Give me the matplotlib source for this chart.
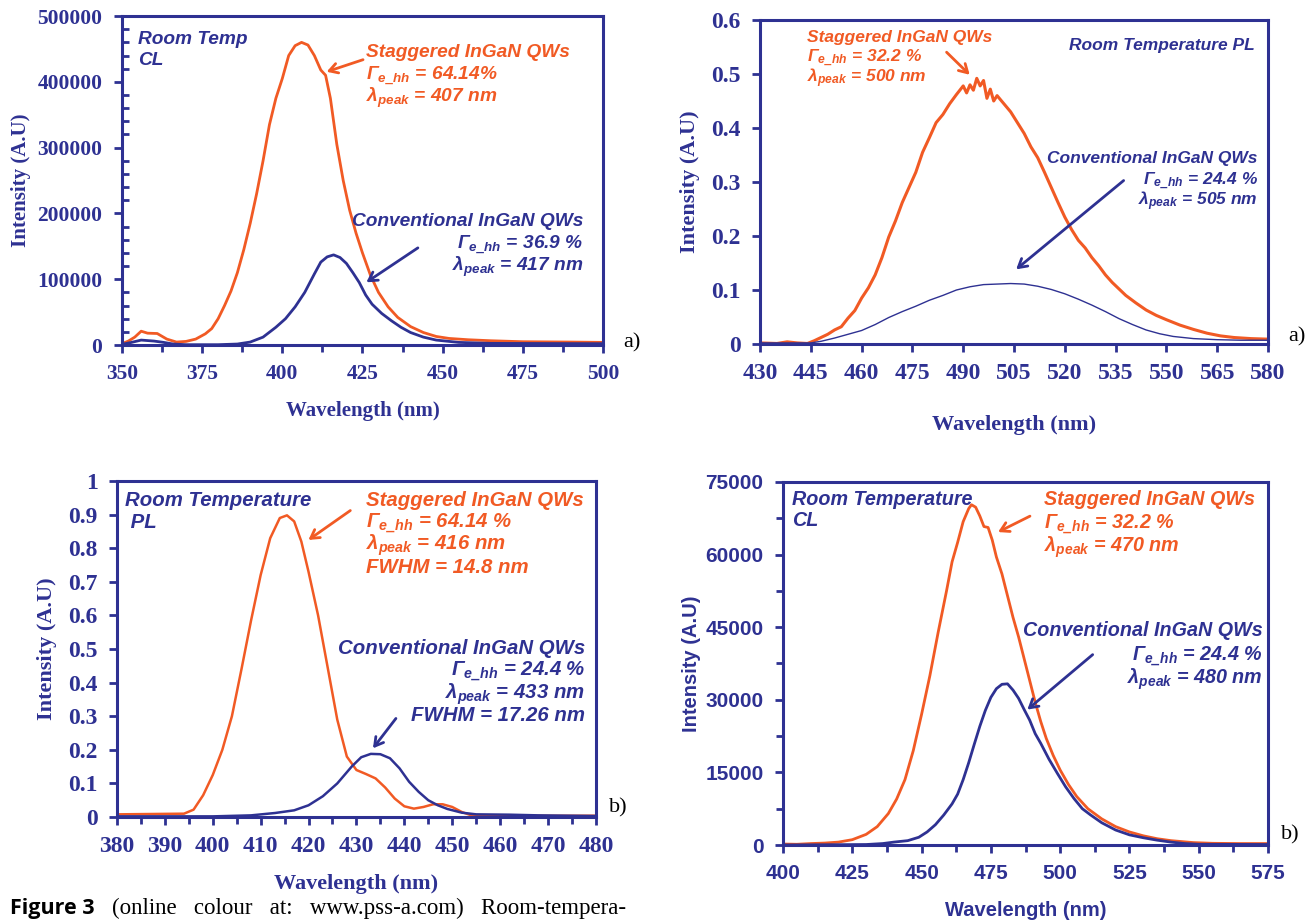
import numpy as np
import matplotlib
matplotlib.use("Agg")
import matplotlib.pyplot as plt
from matplotlib.ticker import MultipleLocator, FixedLocator

ORANGE = "#F15A24"
NAVY = "#2E3192"

plt.rcParams["mathtext.fontset"] = "custom"
plt.rcParams["mathtext.rm"] = "Liberation Sans:italic:bold"
plt.rcParams["mathtext.it"] = "Liberation Sans:italic:bold"
plt.rcParams["mathtext.bf"] = "Liberation Sans:italic:bold"

# ---- panel 1: room temp CL (350-500 nm) ----
cl1_wl_stag = [350, 352, 354, 356, 358, 361, 364, 367, 370, 373, 376, 378, 380, 382, 384,
               386, 388, 390, 392, 394, 396, 398, 400, 402, 404, 406, 408, 410, 412, 413.5,
               415, 417, 419, 421, 423, 425, 427.5, 430, 433, 436, 440, 444, 448, 452, 458,
               465, 475, 490, 500]
cl1_int_stag = [2000, 6000, 12000, 21000, 18000, 17500, 9000, 4500, 5500, 9000, 17000, 25000,
                40000, 60000, 82000, 110000, 145000, 185000, 230000, 280000, 335000, 375000,
                405000, 440000, 455000, 460000, 456000, 440000, 418000, 410000, 375000, 305000,
                250000, 205000, 170000, 140000, 106000, 80000, 58000, 42000, 28000, 19000,
                13000, 10000, 8000, 6500, 5000, 4500, 4000]
cl1_wl_conv = [350, 353, 356, 360, 363, 366, 370, 380, 386, 390, 394, 398, 401, 404, 407, 410,
               412, 414, 416, 418, 420, 422, 424, 426, 428, 431, 434, 437, 440, 444, 448, 455,
               465, 500]
cl1_int_conv = [1000, 4000, 7500, 6000, 4000, 1500, 500, 500, 1500, 4500, 12000, 27000, 40000,
                58000, 80000, 108000, 126000, 134000, 137000, 133000, 124000, 110000, 95000,
                76000, 62000, 48000, 37000, 27000, 19000, 12000, 7500, 4000, 2500, 2000]

# ---- panel 2: room temperature PL (430-580 nm) ----
pl2_wl_stag = [430, 435, 438, 441, 444, 446, 448, 450, 452, 454, 456, 458, 460, 462, 464, 466,
               468, 470, 472, 474, 476, 478, 480, 482, 484, 486, 488, 489, 490, 491, 492, 493,
               494, 495, 496, 497, 498, 499, 500, 502, 504, 506, 508, 510, 512, 514, 516, 518,
               520, 522, 524, 526, 528, 530, 532, 534, 536, 538, 541, 544, 547, 550, 554, 558,
               562, 566, 570, 575, 580]
pl2_int_stag = [0.002, 0.001, 0.004, 0.002, 0.001, 0.006, 0.012, 0.018, 0.026, 0.032, 0.048,
                0.062, 0.085, 0.104, 0.128, 0.160, 0.198, 0.228, 0.262, 0.290, 0.318, 0.355,
                0.382, 0.410, 0.425, 0.445, 0.462, 0.470, 0.478, 0.465, 0.480, 0.470, 0.492,
                0.478, 0.488, 0.455, 0.472, 0.450, 0.460, 0.445, 0.430, 0.410, 0.390, 0.365,
                0.345, 0.318, 0.290, 0.262, 0.235, 0.212, 0.192, 0.178, 0.160, 0.145, 0.128,
                0.114, 0.102, 0.090, 0.076, 0.063, 0.053, 0.045, 0.035, 0.027, 0.020, 0.015,
                0.012, 0.010, 0.009]
pl2_wl_conv = [430, 445, 448, 452, 456, 460, 464, 468, 472, 476, 480, 484, 488, 492, 496, 500,
               504, 508, 512, 516, 520, 524, 528, 532, 536, 540, 544, 548, 552, 558, 565, 572, 580]
pl2_int_conv = [0.002, 0.002, 0.005, 0.011, 0.018, 0.025, 0.036, 0.049, 0.060, 0.070, 0.081,
                0.090, 0.100, 0.106, 0.110, 0.111, 0.112, 0.111, 0.107, 0.101, 0.093, 0.083,
                0.072, 0.060, 0.047, 0.036, 0.026, 0.019, 0.014, 0.010, 0.008, 0.007, 0.007]
pl2_ticks = [430, 445, 460, 475, 490, 505, 520, 535, 550, 565, 580]

# ---- panel 3: room temperature PL (380-480 nm) ----
pl3_wl_stag = [380, 394, 396, 398, 400, 402, 404, 406, 408, 410, 412, 414, 415.5, 417, 418.5,
               420, 422, 424, 426, 428, 430, 432, 434, 436, 438, 440, 442, 444, 446, 448, 450,
               452, 454, 456, 480]
pl3_int_stag = [0.008, 0.010, 0.022, 0.065, 0.125, 0.200, 0.300, 0.440, 0.585, 0.720, 0.830,
                0.890, 0.898, 0.880, 0.820, 0.730, 0.600, 0.445, 0.290, 0.180, 0.140, 0.128,
                0.115, 0.088, 0.055, 0.032, 0.025, 0.030, 0.038, 0.038, 0.030, 0.015, 0.005,
                0.003, 0.004]
pl3_wl_conv = [380, 400, 408, 413, 417, 420, 423, 426, 429, 431, 433, 435, 437, 439, 441, 443,
               445, 447, 449, 452, 455, 462, 468, 480]
pl3_int_conv = [0.002, 0.002, 0.005, 0.012, 0.020, 0.035, 0.062, 0.100, 0.150, 0.178, 0.188,
                0.187, 0.175, 0.145, 0.105, 0.075, 0.050, 0.035, 0.024, 0.013, 0.008, 0.007,
                0.005, 0.003]

# ---- panel 4: room temperature CL (400-575 nm) ----
cl4_wl_stag = [400, 405, 410, 415, 420, 425, 430, 434, 438, 441, 444, 447, 450, 453, 456, 459,
               461, 463, 465, 467, 468, 469.5, 471, 472.5, 474, 475.5, 477, 479, 481, 483, 485,
               487, 489, 491, 493, 495, 497.5, 500, 503, 506, 510, 515, 520, 525, 530, 535, 540,
               548, 555, 565, 575]
cl4_int_stag = [200, 150, 300, 400, 600, 1100, 2200, 3800, 6500, 9500, 13500, 19500, 27000,
                35000, 44000, 52500, 58500, 62500, 66800, 69500, 70300, 69800, 68000, 65800,
                65600, 63000, 59500, 56000, 51500, 47000, 43000, 38500, 34000, 29500, 25500,
                22000, 18500, 15500, 12500, 10000, 7500, 5400, 3800, 2700, 1900, 1300, 900,
                500, 350, 300, 300]
cl4_wl_conv = [400, 430, 436, 440, 445, 449, 452, 455, 458, 461, 463, 465, 467, 469, 471, 473,
               475, 477, 479, 481, 483, 485, 487, 489, 491, 493, 496, 499, 502, 505, 508, 511,
               515, 520, 525, 530, 535, 540, 545, 550, 575]
cl4_int_conv = [0, 100, 300, 600, 900, 1600, 2700, 4200, 6200, 8500, 10500, 13500, 17000, 20800,
                24500, 27800, 30500, 32300, 33200, 33300, 32000, 30300, 28000, 25800, 23000,
                21000, 17700, 14800, 12000, 9600, 7500, 6200, 4600, 3100, 2100, 1500, 1000, 600,
                300, 150, 100]

fig = plt.figure(figsize=(13.14, 9.23), dpi=100)


def style_axes(ax, tick_font, tick_size, label_font, label_size, ylab_x, xlab_y):
    for sp in ax.spines.values():
        sp.set_color(NAVY)
        sp.set_linewidth(2.2)
    ax.tick_params(which="major", direction="out", length=6, width=2, color=NAVY,
                   labelcolor=NAVY, labelsize=tick_size, pad=8)
    ax.tick_params(which="minor", length=5, width=2, color=NAVY)
    for lab in ax.get_xticklabels() + ax.get_yticklabels():
        lab.set_fontfamily(tick_font)
        lab.set_fontweight("bold")
    ax.set_xlabel("Wavelength (nm)", family=label_font, weight="bold",
                  size=label_size, color=NAVY)
    ax.set_ylabel("Intensity (A.U)", family=label_font, weight="bold",
                  size=label_size, color=NAVY)
    ax.xaxis.set_label_coords(0.5, xlab_y)
    ax.yaxis.set_label_coords(ylab_x, 0.5)


def label_block(ax, x, ys, lines, color, size, ha):
    for y, s in zip(ys, lines):
        ax.text(x, y, s, color=color, fontsize=size, family="Liberation Sans",
                style="italic", weight="bold", ha=ha, va="center")


def arrow(ax, start, end, color):
    ax.annotate("", xy=end, xytext=start,
                arrowprops=dict(arrowstyle="->,head_length=0.6,head_width=0.35",
                                color=color, lw=2))


# panel 1
ax1 = fig.add_axes([0.0928, 0.6262, 0.3661, 0.3564])
ax1.plot(cl1_wl_stag, cl1_int_stag, color=ORANGE, lw=2)
ax1.plot(cl1_wl_conv, cl1_int_conv, color=NAVY, lw=2)
ax1.set_xlim(350, 500)
ax1.set_ylim(0, 500000)
ax1.xaxis.set_major_locator(MultipleLocator(25))
ax1.xaxis.set_minor_locator(MultipleLocator(12.5))
ax1.yaxis.set_major_locator(MultipleLocator(100000))
ax1.yaxis.set_minor_locator(MultipleLocator(20000))
ax1.tick_params(axis="y", which="minor", direction="in")
style_axes(ax1, "Liberation Serif", 15.5, "Liberation Serif", 15, -0.19, -0.17)
label_block(ax1, 355, [465000, 433000], ["Room Temp", "CL"], NAVY, 13.8, "left")
label_block(ax1, 426, [444000, 408000, 375000],
            ["Staggered InGaN QWs", r"$\Gamma_{e\_hh}$ = 64.14%", r"$\lambda_{peak}$ = 407 nm"],
            ORANGE, 13.8, "left")
label_block(ax1, 494, [188000, 151000, 118000],
            ["Conventional InGaN QWs", r"$\Gamma_{e\_hh}$ = 36.9 %", r"$\lambda_{peak}$ = 417 nm"],
            NAVY, 13.8, "right")
arrow(ax1, (426, 435000), (413, 414000), ORANGE)
arrow(ax1, (443, 150000), (425.5, 93000), NAVY)

# panel 2
ax2 = fig.add_axes([0.5784, 0.6273, 0.3866, 0.3510])
ax2.plot(pl2_wl_stag, pl2_int_stag, color=ORANGE, lw=2.2)
ax2.plot(pl2_wl_conv, pl2_int_conv, color=NAVY, lw=1)
ax2.set_xlim(430, 580)
ax2.set_ylim(0, 0.6)
ax2.xaxis.set_major_locator(FixedLocator(pl2_ticks))
ax2.yaxis.set_major_locator(MultipleLocator(0.1))
ax2.yaxis.set_major_formatter(plt.FuncFormatter(lambda v, p: "0" if abs(v) < 1e-9 else f"{v:.1f}"))
style_axes(ax2, "Liberation Serif", 17, "Liberation Serif", 16, -0.118, -0.22)
label_block(ax2, 444, [0.568, 0.530, 0.492],
            ["Staggered InGaN QWs", r"$\Gamma_{e\_hh}$ = 32.2 %", r"$\lambda_{peak}$ = 500 nm"],
            ORANGE, 12.5, "left")
label_block(ax2, 576, [0.552], ["Room Temperature PL"], NAVY, 12.5, "right")
label_block(ax2, 577, [0.344, 0.302, 0.264],
            ["Conventional InGaN QWs", r"$\Gamma_{e\_hh}$ = 24.4 %", r"$\lambda_{peak}$ = 505 nm"],
            NAVY, 12.5, "right")
arrow(ax2, (484.5, 0.544), (492.5, 0.495), ORANGE)
arrow(ax2, (538, 0.306), (505, 0.135), NAVY)

# panel 3
ax3 = fig.add_axes([0.0890, 0.1148, 0.3645, 0.3640])
ax3.plot(pl3_wl_stag, pl3_int_stag, color=ORANGE, lw=1.8)
ax3.plot(pl3_wl_conv, pl3_int_conv, color=NAVY, lw=1.8)
ax3.set_xlim(380, 480)
ax3.set_ylim(0, 1)
ax3.xaxis.set_major_locator(MultipleLocator(10))
ax3.xaxis.set_minor_locator(MultipleLocator(5))
ax3.yaxis.set_major_locator(MultipleLocator(0.1))
ax3.yaxis.set_major_formatter(plt.FuncFormatter(
    lambda v, p: "0" if abs(v) < 1e-9 else ("1" if abs(v - 1) < 1e-9 else f"{v:.1f}")))
style_axes(ax3, "Liberation Serif", 17, "Liberation Serif", 16, -0.125, -0.17)
label_block(ax3, 381.6, [0.942, 0.878], ["Room Temperature", " PL"], NAVY, 14.7, "left")
label_block(ax3, 432, [0.942, 0.875, 0.809, 0.744],
            ["Staggered InGaN QWs", r"$\Gamma_{e\_hh}$ = 64.14 %",
             r"$\lambda_{peak}$ = 416 nm", "FWHM = 14.8 nm"],
            ORANGE, 14.7, "left")
label_block(ax3, 477.8, [0.502, 0.433, 0.366, 0.301],
            ["Conventional InGaN QWs", r"$\Gamma_{e\_hh}$ = 24.4 %",
             r"$\lambda_{peak}$ = 433 nm", "FWHM = 17.26 nm"],
            NAVY, 14.7, "right")
arrow(ax3, (429.2, 0.917), (419.5, 0.82), ORANGE)
arrow(ax3, (438.6, 0.30), (433.1, 0.198), NAVY)

# panel 4
ax4 = fig.add_axes([0.5959, 0.0845, 0.3691, 0.3933])
ax4.plot(cl4_wl_stag, cl4_int_stag, color=ORANGE, lw=2)
ax4.plot(cl4_wl_conv, cl4_int_conv, color=NAVY, lw=2)
ax4.set_xlim(400, 575)
ax4.set_ylim(0, 75000)
ax4.xaxis.set_major_locator(MultipleLocator(25))
ax4.xaxis.set_minor_locator(MultipleLocator(12.5))
ax4.yaxis.set_major_locator(MultipleLocator(15000))
ax4.yaxis.set_minor_locator(MultipleLocator(7500))
ax4.tick_params(axis="y", which="minor", direction="out")
style_axes(ax4, "Liberation Sans", 15, "Liberation Sans", 14.5, -0.17, -0.155)
label_block(ax4, 403.2, [71400, 67100], ["Room Temperature", "CL"], NAVY, 14.2, "left")
label_block(ax4, 494.2, [71400, 66200, 61600],
            ["Staggered InGaN QWs", r"$\Gamma_{e\_hh}$ = 32.2 %", r"$\lambda_{peak}$ = 470 nm"],
            ORANGE, 14.2, "left")
label_block(ax4, 573, [44300, 39000, 34200],
            ["Conventional InGaN QWs", r"$\Gamma_{e\_hh}$ = 24.4 %", r"$\lambda_{peak}$ = 480 nm"],
            NAVY, 14.2, "right")
arrow(ax4, (490, 68200), (476.7, 64400), ORANGE)
arrow(ax4, (512.5, 39700), (487.4, 27600), NAVY)

# panel letters
for x, y, s in [(632, 343, "a)"), (1297, 337, "a)"), (618, 808, "b)"), (1290, 835, "b)")]:
    fig.text(x / 1314, 1 - y / 923, s, family="Liberation Serif", size=16,
             ha="center", va="center")

# caption line at the foot of the page
fig.text(10 / 1314, 1 - 898 / 923, "Figure 3", family=["Open Sans", "DejaVu Sans"],
         weight="bold", size=15.5, va="top")
fig.text(112 / 1314, 1 - 898 / 923,
         "(online   colour   at:   www.pss-a.com)   Room-tempera-",
         family="Liberation Serif", size=16.5, va="top")

fig.savefig("out.png", dpi=100)
